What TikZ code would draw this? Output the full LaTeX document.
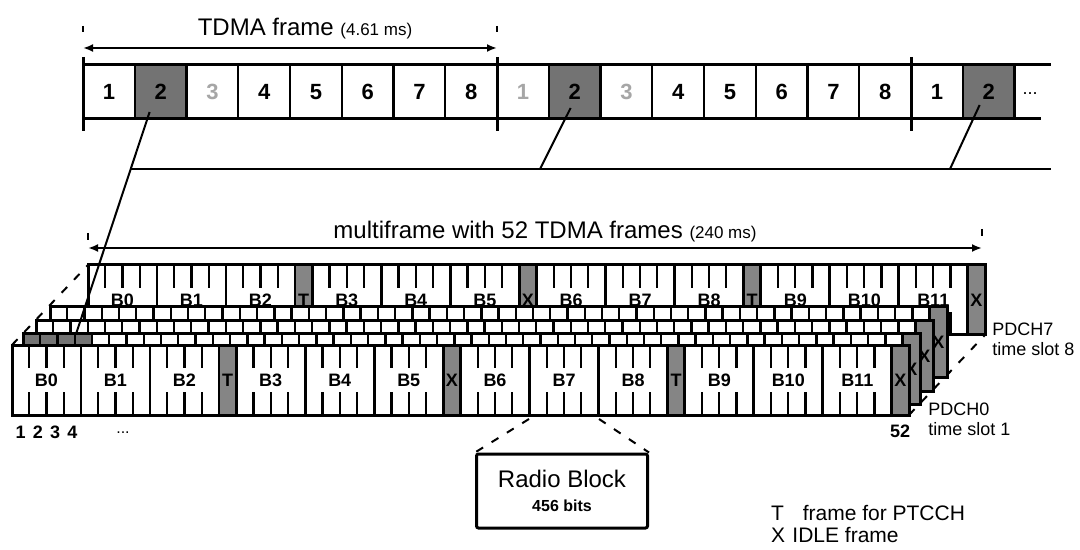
\documentclass[tikz,border=0pt]{standalone}
\usepackage{fontspec}
\setmainfont{Liberation Sans}
\usetikzlibrary{arrows.meta}

\definecolor{slotgray}{gray}{0.45}
\definecolor{idlegray}{gray}{0.52}

% one PDCH row of the 52-multiframe: #1,#2 top left corner,
% #3 = 0 full row, 1 half hidden row, 2 half hidden row with B0 shaded; #4 name prefix
\newcommand{\pdchrow}[4]{%
  \begin{scope}[shift={(#1,#2)}]
    \fill[white] (0,0) rectangle (897,70);
    \ifnum#3=2 \fill[slotgray] (0,0) rectangle (69,70);\fi
    \foreach \lab/\fr/\n in {B0/0/4,B1/4/4,B2/8/4,T/12/1,B3/13/4,B4/17/4,B5/21/4,X/25/1,
                             B6/26/4,B7/30/4,B8/34/4,T/38/1,B9/39/4,B10/43/4,B11/47/4}{
      \ifnum\n=1
        \ifnum#3=0
          \fill[idlegray] ({\fr*17.25},0) rectangle ++(17.25,70);
          \node[blab] (#4-\fr) at ({(\fr+0.5)*17.25},35) {\lab};
        \fi
      \else
        \foreach \t in {1,2,3}{
          \draw[tick] ({(\fr+\t)*17.25},0) -- ++(0,23);
          \draw[tick] ({(\fr+\t)*17.25},70) -- ++(0,-23);
        }
        \ifnum#3=0
          \node[blab] (#4-\fr) at ({(\fr+2)*17.25},35) {\lab};
        \fi
      \fi
      \draw[sep] ({\fr*17.25},0) -- ++(0,70);
    }
    % idle frame at the end of every row
    \fill[idlegray] (879.75,0) rectangle (897,70);
    \draw[sep] (879.75,0) -- ++(0,70);
    \node[blab] (#4-51) at (888.4,35) {X};
    \draw[layer] (0,0) rectangle (897,70);
  \end{scope}}

\begin{document}
\begin{tikzpicture}[
    x=0.5pt, y=-0.5pt,
    tslot/.style={draw, line width=1.2pt, minimum width=25.9pt, minimum height=27pt,
                  inner sep=0pt, font=\fontsize{11}{12}\selectfont\bfseries},
    frame/.style={line width=1.5pt},
    blab/.style={inner sep=0pt, font=\fontsize{9}{10}\selectfont\bfseries},
    tick/.style={line width=1.1pt},
    sep/.style={line width=1.3pt},
    layer/.style={line width=1.5pt},
    link/.style={line width=1pt},
    dim/.style={{Latex[length=5pt,width=4pt]}-{Latex[length=5pt,width=4pt]}, line width=1pt},
    guide/.style={dashed, line width=1pt, dash pattern=on 4pt off 5pt},
    head/.style={font=\fontsize{12}{14}\selectfont},
    lab/.style={font=\fontsize{9}{10}\selectfont\bfseries},
    pdch/.style={anchor=west, align=left, inner sep=1pt, font=\fontsize{9}{10}\selectfont},
    rblock/.style={draw, line width=1.5pt, rounded corners=1pt, minimum width=85.5pt,
                   minimum height=37pt, align=center, font=\fontsize{12}{14}\selectfont},
    legend/.style={anchor=west, font=\fontsize{10.5}{12}\selectfont}
]
    \useasboundingbox (0,0) rectangle (1080,550);

    % TDMA frames
    \node[head] (ttl) at (305,29) {TDMA frame {\fontsize{8.5}{10}\selectfont (4.61 ms)}};
    \draw[line width=0.8pt] (83,26) -- (83,32) (497,26) -- (497,32);
    \coordinate (fl) at (83,48);
    \coordinate (fr) at (497,48);
    \draw[dim] (fl) -- (fr);

    \foreach \i/\lab/\col/\fil in {0/1/black/white, 1/2/black/slotgray, 2/3/black!35/white,
        3/4/black/white, 4/5/black/white, 5/6/black/white, 6/7/black/white, 7/8/black/white,
        8/1/black!35/white, 9/2/black/slotgray, 10/3/black!35/white, 11/4/black/white,
        12/5/black/white, 13/6/black/white, 14/7/black/white, 15/8/black/white,
        16/1/black/white, 17/2/black/slotgray}
        \node[tslot, fill=\fil, text=\col] (c\i) at ({83+51.75*(\i+0.5)},92) {\lab};
    \node[font=\fontsize{9}{10}\selectfont] (more) at (1030,94) {...};
    \draw[frame] (83,65) -- (1051,65);
    \draw[frame] (83,119) -- (1041,119);
    \foreach \x in {83,497,911}
        \draw[frame] (\x,57) -- (\x,131);

    % multiframe
    \node[head] (mttl) at (545,232) {multiframe with 52 TDMA frames {\fontsize{8.5}{10}\selectfont (240 ms)}};
    \draw[line width=0.8pt] (88,233) -- (88,240) (982,229) -- (982,236);
    \coordinate (ml) at (88,248);
    \coordinate (mr) at (982,248);
    \draw[dim] (ml) -- (mr);

    \coordinate (tl0) at (12,345);
    \coordinate (tl7) at (88,265);
    \coordinate (br0) at (909,415);
    \coordinate (br7) at (985,335);
    \draw[guide] (tl0) -- (tl7);
    \draw[guide] (br0) -- (br7);

    \pdchrow{88}{265}{0}{p7}
    \pdchrow{50}{307}{1}{p3}
    \pdchrow{36}{321}{1}{p2}
    \pdchrow{23}{334}{2}{p1}
    \pdchrow{12}{345}{0}{p0}

    % slot 2 of each TDMA frame goes to the same PDCH
    \coordinate (pdch1) at (76,334);
    \coordinate (busL) at (130,169);
    \coordinate (busR) at (1051,169);
    \coordinate (j2) at (540,169);
    \coordinate (j3) at (950,169);
    \draw[link] (c1.center) ++(-11,20) -- (pdch1);
    \draw[link] (busL) -- (busR);
    \draw[link] (c9.center) ++(-4,16) -- (j2);
    \draw[link] (c17.center) ++(-9,13) -- (j3);

    \foreach \k in {1,...,4}
        \node[lab] (n\k) at ({12+(\k-0.5)*17.25},432) {\k};
    \node[font=\fontsize{8}{9}\selectfont] (ndots) at (123,433) {...};
    \node[lab] (n52) at (900,431) {52};
    \node[pdch] (pd7) at (990,339) {PDCH7\\time slot 8};
    \node[pdch] (pd0) at (926,419) {PDCH0\\time slot 1};

    % radio block
    \node[rblock] (radio) at (562,491) {Radio Block\\[-2pt]{\fontsize{8}{9}\selectfont\bfseries 456 bits}};
    \coordinate (b7l) at (529,419);
    \coordinate (b7r) at (599,419);
    \draw[guide] (b7l) -- (radio.north west);
    \draw[guide] (b7r) -- (radio.north east);

    \node[legend] (legT) at (764,513) {T\hspace{0.9em}frame for PTCCH};
    \node[legend] (legX) at (764,535) {X\hspace{0.35em}IDLE frame};
\end{tikzpicture}
\end{document}
